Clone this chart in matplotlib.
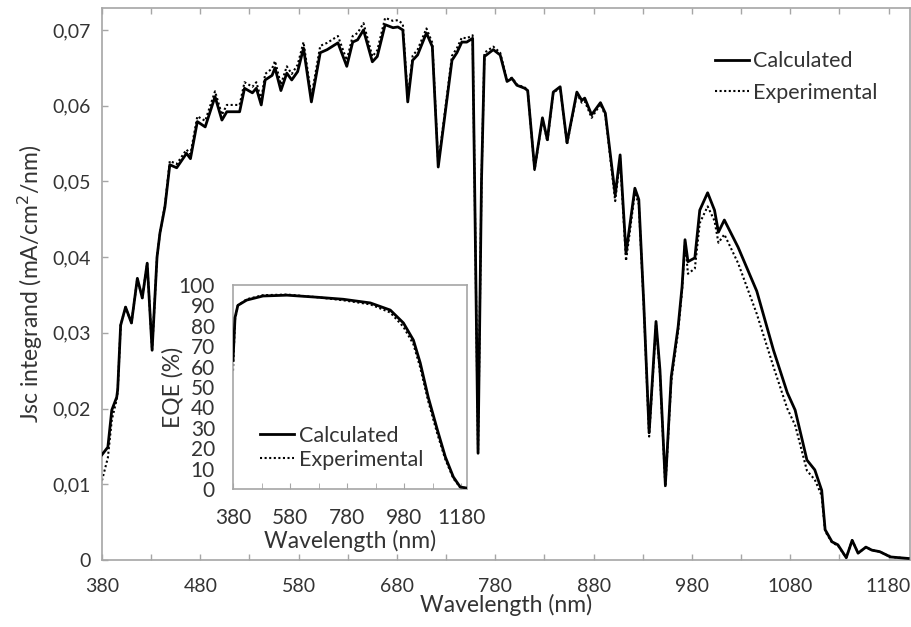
import matplotlib
matplotlib.use("Agg")
import matplotlib.pyplot as plt
import matplotlib.ticker as mticker

plt.rcParams['font.family'] = ['Lato', 'DejaVu Sans']

# main curve: Jsc integrand (mA/cm2/nm) vs wavelength (nm)
wl = [380, 386, 390, 395, 396, 399, 404, 410, 416, 421, 426, 431, 436, 439, 444, 449,
      456, 466, 470, 477, 485, 495, 502, 507, 520, 525, 533, 537, 542, 546, 553, 556,
      562, 568, 573, 579, 585, 593, 602, 609, 620, 629, 635, 640, 646, 655, 660, 668,
      676, 681, 686, 691, 696, 701, 710, 716, 722, 736, 741, 746, 751, 757, 759, 762.5,
      766, 769, 778, 785, 792, 797, 802, 810, 813, 820, 828, 833, 839, 846, 853, 863,
      868, 871, 878, 887, 892, 902, 907, 913, 922, 926, 931, 936.5, 943.5, 947.5, 953,
      959, 966, 970, 973, 976, 983, 988, 996, 1003, 1007, 1013, 1027, 1046, 1063, 1077,
      1085, 1097, 1105, 1112, 1115.5, 1122.5, 1128.5, 1137, 1143, 1149, 1157, 1163,
      1171, 1182, 1200]
jsc_calc = [0.0139, 0.0149, 0.0198, 0.0215, 0.0225, 0.031, 0.0334, 0.0313, 0.0372, 0.0346,
            0.0392, 0.0277, 0.040, 0.0432, 0.0466, 0.0522, 0.0518, 0.0537, 0.053, 0.0579,
            0.0572, 0.0612, 0.0581, 0.0592, 0.0592, 0.0623, 0.0617, 0.0623, 0.0601, 0.0634,
            0.064, 0.065, 0.062, 0.0643, 0.0634, 0.0645, 0.0676, 0.0605, 0.067, 0.0674,
            0.0683, 0.0652, 0.0684, 0.0687, 0.070, 0.0658, 0.0665, 0.0707, 0.0703, 0.0704,
            0.070, 0.0605, 0.066, 0.0667, 0.0696, 0.0678, 0.0519, 0.066, 0.067, 0.0684,
            0.0684, 0.0689, 0.05, 0.0141, 0.05, 0.0665, 0.0674, 0.0667, 0.0632, 0.0636,
            0.0627, 0.0623, 0.062, 0.0517, 0.0584, 0.0555, 0.0618, 0.0625, 0.0551, 0.0618,
            0.0607, 0.061, 0.0588, 0.0604, 0.059, 0.0482, 0.0535, 0.0405, 0.0491, 0.0476,
            0.034, 0.0168, 0.0315, 0.0251, 0.0099, 0.0242, 0.0308, 0.0361, 0.0423, 0.0394,
            0.0399, 0.0462, 0.0485, 0.0462, 0.0433, 0.0449, 0.0413, 0.0355, 0.0277, 0.0221,
            0.0198, 0.0132, 0.0119, 0.0092, 0.004, 0.0024, 0.002, 0.0003, 0.0026, 0.0009,
            0.0017, 0.0013, 0.0011, 0.0004, 0.0002]
jsc_exp = [0.0105, 0.0135, 0.0185, 0.0212, 0.0223, 0.031, 0.0334, 0.0313, 0.0372, 0.0346,
           0.0392, 0.0277, 0.040, 0.0432, 0.0468, 0.0527, 0.0523, 0.0542, 0.0536, 0.0586,
           0.058, 0.0619, 0.0588, 0.0601, 0.0601, 0.0631, 0.0625, 0.0631, 0.0608, 0.0642,
           0.0649, 0.0659, 0.0628, 0.0652, 0.0642, 0.0654, 0.0684, 0.0612, 0.0679, 0.0683,
           0.0692, 0.066, 0.0692, 0.0696, 0.0709, 0.0665, 0.0673, 0.0716, 0.0712, 0.0713,
           0.0708, 0.061, 0.0666, 0.0674, 0.0702, 0.0683, 0.0522, 0.0666, 0.0676, 0.069,
           0.0689, 0.0693, 0.05, 0.0141, 0.05, 0.067, 0.0678, 0.067, 0.0634, 0.0637,
           0.0628, 0.0624, 0.062, 0.0515, 0.0583, 0.0553, 0.0617, 0.0624, 0.0549, 0.0616,
           0.0604, 0.0606, 0.0584, 0.0602, 0.0587, 0.0474, 0.053, 0.0395, 0.0485, 0.047,
           0.0337, 0.0163, 0.0312, 0.0246, 0.0096, 0.0236, 0.0302, 0.0356, 0.042, 0.0378,
           0.0385, 0.0445, 0.0467, 0.0448, 0.0419, 0.043, 0.0392, 0.0325, 0.0255, 0.0200,
           0.0178, 0.0118, 0.0106, 0.0085, 0.0038, 0.0023, 0.0019, 0.0003, 0.0026, 0.0009,
           0.0017, 0.0013, 0.0011, 0.0004, 0.0002]

# inset: EQE (%)
eqe_wl = [380, 387, 397, 428, 485, 569, 674, 766, 861, 931, 977, 1012, 1036, 1064,
          1096, 1124, 1152, 1176, 1205]
eqe_calc = [63, 84, 90, 92.6, 94.6, 95, 94, 93, 91.2, 87.7, 81.4, 73, 61.8, 45,
            29, 15.7, 5.9, 1, 0.3]
eqe_exp = [58, 83, 90, 93, 95, 95.3, 94, 92.5, 90.5, 86.5, 79.5, 71, 59.5, 43,
           27, 14.5, 5.2, 0.8, 0.3]

grey = '#a6a6a6'
txt = '#333333'

fig = plt.figure(figsize=(9.12, 6.27), dpi=100)
ax = fig.add_axes([0.1118, 0.1069, 0.8862, 0.8803])

ax.plot(wl, jsc_calc, color='black', lw=2.0, label='Calculated', zorder=3)
ax.plot(wl, jsc_exp, color='black', lw=1.5, ls=(0, (1, 1.2)), label='Experimental', zorder=2)

ax.set_xlim(380, 1202)
ax.set_ylim(0, 0.0729)
ax.set_xticks(range(380, 1181, 100))
ax.set_xticks(range(430, 1181, 100), minor=True)
ax.set_yticks([0, 0.01, 0.02, 0.03, 0.04, 0.05, 0.06, 0.07])
ax.yaxis.set_major_formatter(mticker.FuncFormatter(
    lambda v, p: '0' if abs(v) < 1e-9 else ('%.2f' % v).replace('.', ',')))
ax.tick_params(which='both', direction='in', length=4, color=grey, width=1,
               labelsize=14, labelcolor=txt, top=True)
ax.tick_params(axis='x', pad=13)
ax.tick_params(axis='y', pad=8)
for s in ax.spines.values():
    s.set_color(grey)
    s.set_linewidth(1.2)

ax.set_xlabel('Wavelength (nm)', fontsize=16.5, color=txt, labelpad=-1)
ax.set_ylabel('Jsc integrand (mA/cm$^2$/nm)', fontsize=16.5, color=txt, labelpad=5)

leg = ax.legend(loc='upper right', bbox_to_anchor=(0.960, 0.922), frameon=False,
                fontsize=15.5, handlelength=1.6, handletextpad=0.2, labelspacing=0.55,
                borderaxespad=0, borderpad=0)
for t in leg.get_texts():
    t.set_color(txt)

# inset
axi = fig.add_axes([0.2555, 0.2201, 0.2566, 0.3254])
axi.plot(eqe_wl, eqe_calc, color='black', lw=2.0, label='Calculated', zorder=3)
axi.plot(eqe_wl, eqe_exp, color='black', lw=1.5, ls=(0, (1, 1.2)), label='Experimental', zorder=2)
axi.set_xlim(380, 1200)
axi.set_ylim(0, 100)
axi.set_xticks(range(380, 1181, 200))
axi.set_xticks(range(480, 1181, 200), minor=True)
axi.set_yticks(range(0, 101, 10))
axi.tick_params(which='both', direction='in', labelsize=15, labelcolor=txt, color=grey)
axi.tick_params(axis='x', which='both', length=4, pad=14)
axi.tick_params(axis='y', length=0, pad=13)
for s in axi.spines.values():
    s.set_color(grey)
    s.set_linewidth(1.2)
axi.set_xlabel('Wavelength (nm)', fontsize=16.5, color=txt, labelpad=1)
axi.set_ylabel('EQE (%)', fontsize=16.5, color=txt, labelpad=-3.5)
legi = axi.legend(loc='lower left', bbox_to_anchor=(0.115, 0.094), frameon=False,
                  fontsize=15.5, handlelength=1.6, handletextpad=0.2, labelspacing=0.2,
                  borderaxespad=0, borderpad=0)
for t in legi.get_texts():
    t.set_color(txt)

fig.savefig('out.png', dpi=100)
